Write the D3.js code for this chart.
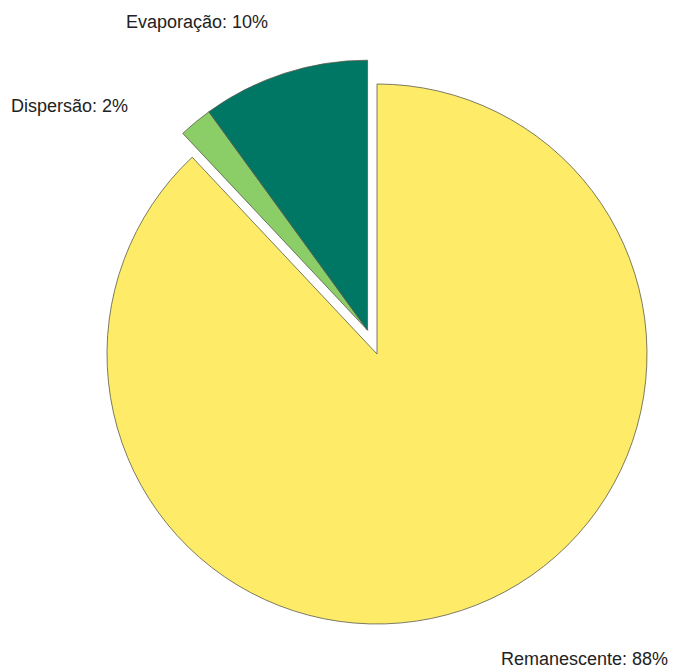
<!DOCTYPE html>
<html>
<head>
<meta charset="utf-8">
<script src="https://cdn.jsdelivr.net/npm/d3@7"></script>
<style>
  html, body { margin: 0; padding: 0; background: #fff; }
  svg text { font-family: "Liberation Sans", Arial, sans-serif; fill: #222; }
</style>
</head>
<body>
<div id="chart"></div>
<script>
// Dados
const categorias = ['Remanescente', 'Dispersão', 'Evaporação'];
const valores = [88, 2, 10];
const cores = ['#FEEC68', '#8BCD66', '#007764'];
const destacados = [false, true, true];

let width = 674, height = 669;
let cx = 377, cy = 354, raio = 270;
let explode = 25.6;

const svg = d3.select('#chart')
    .append('svg')
    .attr('width', width)
    .attr('height', height);

let pie = d3.pie().sort(null).value(d => d.valor);
let arc = d3.arc().innerRadius(0).outerRadius(raio);

let dados = categorias.map((c, i) => ({categoria: c, valor: valores[i], cor: cores[i], destacado: destacados[i]}));
let arcos = pie(dados);

// angulo medio do grupo destacado (as fatias destacadas saem juntas)
let grupo = arcos.filter(d => d.data.destacado);
let angMedio = (d3.min(grupo, d => d.startAngle) + d3.max(grupo, d => d.endAngle)) / 2;
let dx = Math.sin(angMedio) * explode,
    dy = -Math.cos(angMedio) * explode;

let g = svg.append('g').attr('transform', 'translate(' + cx + ',' + cy + ')');

g.selectAll('path')
    .data(arcos)
    .enter()
    .append('path')
    .attr('d', arc)
    .attr('fill', d => d.data.cor)
    .attr('stroke', '#5a5a4a')
    .attr('stroke-width', 0.8)
    .attr('stroke-linejoin', 'round')
    .attr('transform', d => d.data.destacado ? 'translate(' + dx + ',' + dy + ')' : null);

// Rótulos
let posRotulos = {
    'Remanescente': {x: 668, y: 665, anchor: 'end'},
    'Dispersão': {x: 11, y: 112, anchor: 'start'},
    'Evaporação': {x: 126, y: 28, anchor: 'start'}
};

svg.selectAll('text.rotulo')
    .data(arcos)
    .enter()
    .append('text')
    .attr('class', 'rotulo')
    .attr('x', d => posRotulos[d.data.categoria].x)
    .attr('y', d => posRotulos[d.data.categoria].y)
    .attr('text-anchor', d => posRotulos[d.data.categoria].anchor)
    .attr('font-size', 18)
    .text(d => d.data.categoria + ': ' + d.data.valor + '%');
</script>
</body>
</html>
